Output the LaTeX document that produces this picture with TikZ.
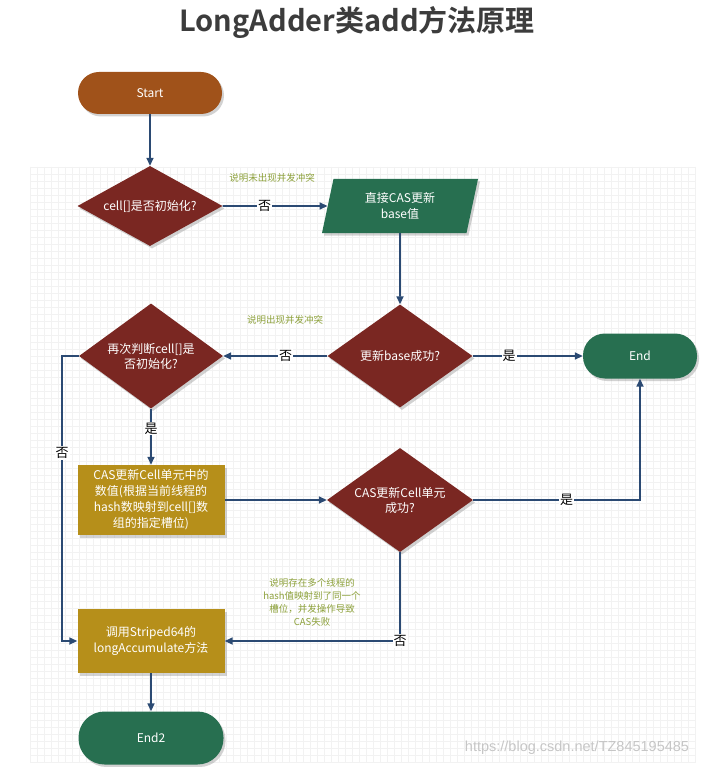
\documentclass[tikz,border=0pt]{standalone}
\usepackage{fontspec}
\setmainfont{Noto Sans CJK SC}
\newfontfamily\titlefont{Noto Sans CJK SC Bold}
\newfontfamily\wmfont{Liberation Sans}
\usetikzlibrary{shapes.geometric,shadows,arrows.meta}
\definecolor{cstart}{HTML}{A0521A}
\definecolor{cdia}{HTML}{7A2722}
\definecolor{cgreen}{HTML}{276F50}
\definecolor{cgold}{HTML}{B68F1A}
\definecolor{carrow}{HTML}{2B4A73}
\definecolor{cnote}{HTML}{8DA13B}
\definecolor{ctitle}{HTML}{3C3C3C}
\tikzset{
  shad/.style={drop shadow={opacity=0.35,shadow xshift=2pt,shadow yshift=-2.5pt}},
  pill/.style={rectangle,rounded corners=21pt,fill=cgreen,text=white,font=\fontsize{12}{14}\selectfont,shad},
  dia/.style={diamond,fill=cdia,text=white,inner sep=0pt,align=center,font=\fontsize{12}{15}\selectfont,shad},
  procbox/.style={rectangle,fill=cgold,text=white,inner sep=0pt,align=center,font=\fontsize{12}{16}\selectfont,minimum width=147,shad},
  conn/.style={draw=carrow,line width=1.6pt,-{Triangle[length=8pt,width=7pt]}},
  lab/.style={fill=white,inner sep=1pt,text=black,font=\fontsize{13}{13}\selectfont},
  note/.style={text=cnote,align=center,font=\fontsize{9.5}{13}\selectfont},
  gridline/.style={draw=gray!10,line width=0.5pt}
}
\begin{document}
\begin{tikzpicture}[x=1pt,y=-1pt]
\useasboundingbox (0,0) rectangle (708,767);
\fill[white] (0,0) rectangle (708,767);
% grid
\foreach \gx in {30,37,...,696} {\draw[gridline] (\gx,167) -- (\gx,762);}
\foreach \gy in {167,174,...,762} {\draw[gridline] (30,\gy) -- (696,\gy);}
% title
\node (title) [text=ctitle,font=\titlefont\fontsize{29}{29}\selectfont] at (357,22.5) {LongAdder类add方法原理};
% nodes
\node (start) [pill,fill=cstart,minimum width=144,minimum height=42] at (150,93) {Start};
\node (d1) [dia,shape aspect=1.81,minimum width=145,minimum height=80] at (150,206) {cell[]是否初始化?};
\node (para) [trapezium,trapezium left angle=67,trapezium right angle=113,trapezium stretches body=true,fill=cgreen,text=white,align=center,inner sep=0pt,minimum width=156,minimum height=54,font=\fontsize{12}{16}\selectfont,shad] at (400,206) {直接CAS更新\\base值};
\node (d3) [dia,shape aspect=1.4,minimum width=145,minimum height=103] at (400,356) {更新base成功?};
\node (d2) [dia,shape aspect=1.35,minimum width=144,minimum height=105] at (151,356) {再次判断cell[]是\\否初始化?};
\node (end) [pill,rounded corners=22pt,minimum width=114,minimum height=45] at (640,356) {End};
\node (box1) [procbox,minimum height=70] at (151,500) {CAS更新Cell单元中的\\数值(根据当前线程的\\hash数映射到cell[]数\\组的指定槽位)};
\node (d4) [dia,shape aspect=1.4,minimum width=146,minimum height=104] at (400,500) {CAS更新Cell单元\\成功?};
\node (box2) [procbox,minimum height=64] at (151,641) {调用Striped64的\\longAccumulate方法};
\node (end2) [pill,rounded corners=26pt,minimum width=145,minimum height=53] at (151,738) {End2};
% notes
\node (n1) [note] at (272,178) {说明未出现并发冲突};
\node (n2) [note] at (285,320) {说明出现并发冲突};
\node (n3) [note] at (312,602) {说明存在多个线程的\\hash值映射到了同一个\\槽位，并发操作导致\\CAS失败};
\node (wm) [text=gray!45,font=\wmfont\fontsize{14.5}{14.5}\selectfont] at (577,748) {https://blog.csdn.net/TZ845195485};
% connectors
\draw[conn] (start) -- (d1);
\draw[conn] (d1.east) -- node[lab,pos=0.4]{否} (para.west);
\draw[conn] (para.south) -- (d3.north);
\draw[conn] (d3.west) -- node[lab,pos=0.4]{否} (d2.east);
\draw[conn] (d3.east) -- node[lab,pos=0.33]{是} (end.west);
\draw[conn] (d2.south) -- node[lab,pos=0.35]{是} (box1.north);
\coordinate (lft) at (62,356);
\draw[conn] (d2.west) -- (lft) |- node[lab,pos=0.17]{否} (box2.west);
\draw[conn] (box1.east) -- (d4.west);
\draw[conn] (d4.east) -| node[lab,pos=0.28]{是} (end.south);
\draw[conn] (d4.south) |- node[lab,pos=0.5]{否} (box2.east);
\draw[conn] (box2) -- (end2);
\end{tikzpicture}
\end{document}
